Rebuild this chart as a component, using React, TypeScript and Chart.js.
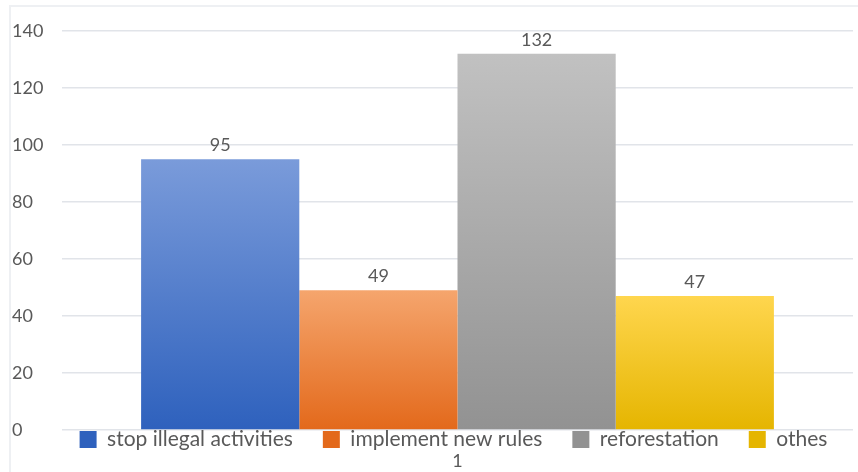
import { useEffect, useRef } from 'react';
import { Chart, registerables } from 'chart.js';

Chart.register(...registerables);

const categories = ['1'];
const seriesNames = ['stop illegal activities', 'implement new rules', 'reforestation', 'othes'];
const stopIllegal = [95];
const implementRules = [49];
const reforestation = [132];
const others = [47];
const seriesValues = [stopIllegal, implementRules, reforestation, others];
const yMin = 0;
const yMax = 140;
const yStep = 20;

const topColors = ['#7a9bda', '#f5a56d', '#c1c1c1', '#ffd64e'];
const bottomColors = ['#2e61bd', '#e3691b', '#929292', '#e5b500'];
const legendColors = ['#3b6cc6', '#ee7f33', '#a3a3a3', '#f8c51c'];

const FONT = 'Lato, "Open Sans", sans-serif';
const TEXT = '#595959';

const valueLabels = {
  id: 'valueLabels',
  afterDatasetsDraw(chart: any) {
    const { ctx } = chart;
    ctx.save();
    ctx.font = `18px ${FONT}`;
    ctx.fillStyle = TEXT;
    ctx.textAlign = 'center';
    ctx.textBaseline = 'middle';
    chart.data.datasets.forEach((ds: any, i: number) => {
      const meta = chart.getDatasetMeta(i);
      meta.data.forEach((el: any, j: number) => {
        ctx.fillText(String(ds.data[j]), el.x, el.y - 14);
      });
    });
    ctx.restore();
  },
};

const legendShift = {
  id: 'legendShift',
  afterLayout(chart: any) {
    const lg = chart.legend;
    if (!lg) return;
    const area = chart.chartArea;
    const pad = lg.options.labels.padding;
    lg.top = area.bottom - 1 - pad;
    lg.bottom = area.bottom + 22;
    const shift = (area.left + area.right) / 2 - 4 - (lg.left + lg.right) / 2;
    lg.left += shift;
    lg.right += shift;
  },
};

export default function App() {
  const ref = useRef<HTMLCanvasElement>(null);
  useEffect(() => {
    if (!ref.current) return;
    const chart = new Chart(ref.current, {
      type: 'bar',
      data: {
        labels: categories,
        datasets: seriesNames.map((name, i) => ({
          label: name,
          data: seriesValues[i],
          backgroundColor: (c: any) => {
            const ch = c.chart;
            if (c.type !== 'data' || !ch.chartArea) return legendColors[i];
            const ys = ch.scales.y;
            const top = ys.getPixelForValue(c.raw);
            const bottom = ys.getPixelForValue(0);
            const g = ch.ctx.createLinearGradient(0, top, 0, bottom);
            g.addColorStop(0, topColors[i]);
            g.addColorStop(1, bottomColors[i]);
            return g;
          },
          borderWidth: 0,
          categoryPercentage: 0.8,
          barPercentage: 1.0,
        })),
      },
      options: {
        responsive: false,
        animation: false,
        layout: { padding: { left: 12, right: 5, top: 31, bottom: 0 } },
        plugins: {
          tooltip: { enabled: false },
          legend: {
            position: 'bottom',
            fullSize: true,
            maxHeight: 20,
            labels: {
              boxWidth: 17,
              boxHeight: 17,
              padding: 30,
              color: TEXT,
              font: { family: FONT, size: 21 },
            },
          },
        },
        scales: {
          x: {
            weight: 2000,
            grid: { display: false, drawTicks: false },
            border: { display: false },
            ticks: { color: TEXT, font: { family: FONT, size: 18 }, padding: 0 },
            afterFit: (s: any) => {
              s.height = 22;
            },
          },
          y: {
            min: yMin,
            max: yMax,
            ticks: {
              stepSize: yStep,
              color: TEXT,
              font: { family: FONT, size: 18 },
              crossAlign: 'far',
            },
            grid: { color: '#e1e4e9', lineWidth: 1.5, drawTicks: false },
            border: { display: false },
            afterFit: (s: any) => {
              s.width = 50;
            },
          },
        },
      },
      plugins: [valueLabels, legendShift],
    } as any);
    return () => chart.destroy();
  }, []);

  return (
    <div style={{ position: 'fixed', left: 0, top: 0, width: 858, height: 472, background: '#fff' }}>
      <div
        style={{
          position: 'absolute',
          left: 9,
          top: 5,
          right: 0,
          bottom: 0,
          borderLeft: '2px solid #eef0f3',
          borderTop: '2px solid #eef0f3',
        }}
      />
      <canvas ref={ref} width={858} height={472} style={{ position: 'absolute', left: 0, top: 0 }} />
    </div>
  );
}
